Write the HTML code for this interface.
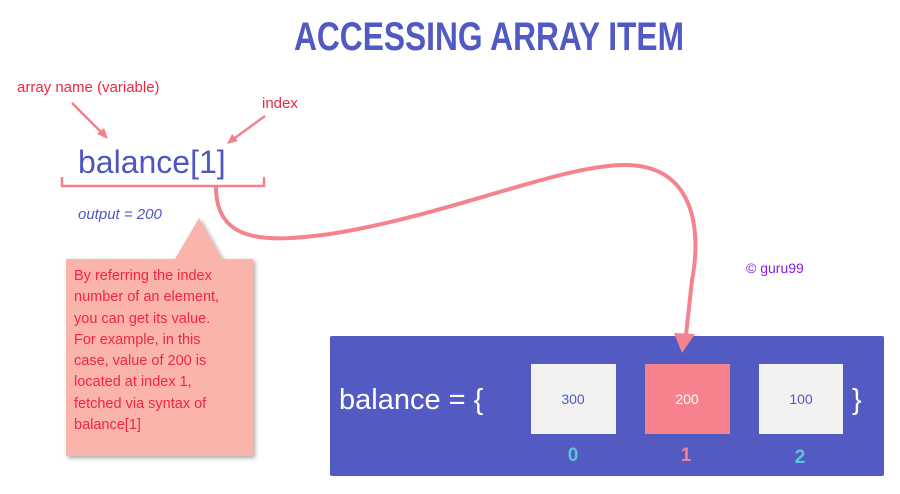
<!DOCTYPE html>
<html><head><meta charset="utf-8"><style>
body{margin:0;width:900px;height:494px;background:#fff;position:relative;overflow:hidden;font-family:"Liberation Sans",sans-serif}
.t{position:absolute;white-space:nowrap}
</style></head><body>
<svg width="900" height="494" style="position:absolute;left:0;top:0">
<defs><filter id="sh" x="-10%" y="-10%" width="130%" height="130%"><feDropShadow dx="2" dy="2" stdDeviation="2" flood-color="#000" flood-opacity="0.35"/></filter></defs>
<text x="489" y="50" text-anchor="middle" font-family="Liberation Sans Narrow, Liberation Sans, sans-serif" font-weight="bold" font-size="40" fill="#5159c4" textLength="390" lengthAdjust="spacingAndGlyphs">ACCESSING ARRAY ITEM</text>
<line x1="72" y1="103" x2="104" y2="135" stroke="#f2818d" stroke-width="2.5"/>
<polygon points="108,139 97,134 104,128" fill="#f2818d"/>
<line x1="265" y1="116" x2="232" y2="140" stroke="#f2818d" stroke-width="2.5"/>
<polygon points="227,144 232,134 238,141" fill="#f2818d"/>
<path d="M62,177 V186 H264 V177" fill="none" stroke="#f2818d" stroke-width="2.5"/>
<rect x="330" y="336" width="554" height="140" rx="2" fill="#535bc2"/>
<path d="M216,187 C216,245 270,242 330,234 C450,215 560,165 625,165 C700,165 700,240 692,280 L686,335" fill="none" stroke="#f5838f" stroke-width="4"/>
<polygon points="674,333 695,334 682,353" fill="#f5838f"/>
<g filter="url(#sh)"><path d="M66,259 H175 L199,218 L222,259 H253 V456 H66 Z" fill="#fbb4ab"/></g>
<rect x="531" y="364" width="85" height="70" fill="#f2f2f2"/>
<rect x="645" y="364" width="85" height="70" fill="#f6828d"/>
<rect x="759" y="364" width="84" height="70" fill="#f2f2f2"/>
<text x="573" y="404" text-anchor="middle" font-size="14" fill="#5159c4">300</text>
<text x="687" y="404" text-anchor="middle" font-size="14" fill="#fff">200</text>
<text x="801" y="404" text-anchor="middle" font-size="14" fill="#5159c4">100</text>
<text x="573" y="461" text-anchor="middle" font-size="19" font-weight="bold" fill="#5ec5d8">0</text>
<text x="686" y="461" text-anchor="middle" font-size="19" font-weight="bold" fill="#f6828d">1</text>
<text x="800" y="463" text-anchor="middle" font-size="19" font-weight="bold" fill="#5ec5d8">2</text>
<text x="339" y="409" font-size="29" fill="#fff">balance = {</text>
<text x="852" y="409" font-size="29" fill="#fff">}</text>
</svg>
<div class="t" style="left:17px;top:79px;font-size:15px;color:#f0263e">array name (variable)</div>
<div class="t" style="left:262px;top:95px;font-size:15px;color:#f0263e">index</div>
<div class="t" style="left:78px;top:144px;font-size:32px;color:#4e57c0">balance[1]</div>
<div class="t" style="left:78px;top:206px;font-size:15px;font-style:italic;color:#4e57c0">output = 200</div>
<div class="t" style="left:74px;top:266px;font-size:14.5px;line-height:21.3px;color:#f0263e">By referring the index<br>number of an element,<br>you can get its value.<br>For example, in this<br>case, value of 200 is<br>located at index 1,<br>fetched via syntax of<br>balance[1]</div>
<div class="t" style="left:746px;top:260px;font-size:14px;color:#8b18e8">© guru99</div>
</body></html>
